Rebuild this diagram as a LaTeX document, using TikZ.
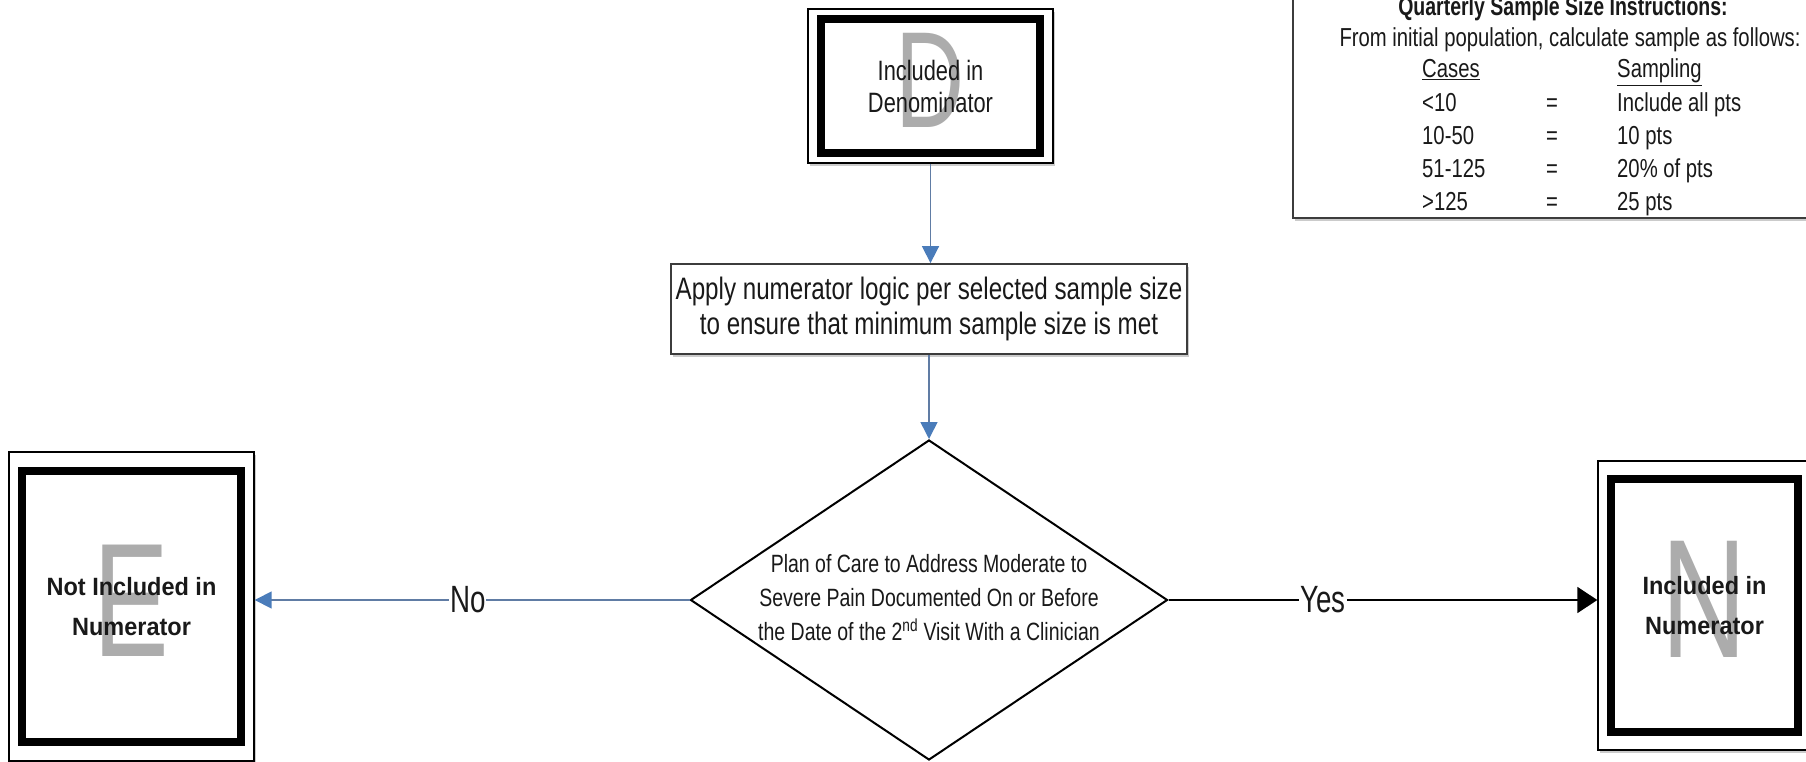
\documentclass[tikz,border=0pt]{standalone}
\usepackage{fontspec}
\usepackage{graphicx}
\setmainfont{Liberation Sans}
\newfontfamily\fnNar{Liberation Sans}[FakeStretch=0.78]
\newfontfamily\fnNarB{Liberation Sans}[FakeStretch=0.94]
\newfontfamily\fnNarL{Liberation Sans}[FakeStretch=0.73]
\newfontfamily\fnNarT{Liberation Sans}[FakeStretch=0.75]
\usetikzlibrary{shapes.geometric,arrows.meta,shadows}
\definecolor{ink}{RGB}{25,25,25}
\definecolor{ghostgray}{RGB}{172,172,172}
\definecolor{flowblue}{RGB}{74,124,186}
\definecolor{lineblue}{RGB}{96,124,164}
\definecolor{boxedge}{RGB}{60,60,60}
\newcommand\fBox{\fnNar\fontsize{28pt}{32pt}\selectfont}
\newcommand\fBoldBox{\fnNarB\bfseries\fontsize{25pt}{40pt}\selectfont}
\newcommand\fProc{\fnNar\fontsize{31pt}{35pt}\selectfont}
\newcommand\fDia{\fnNar\fontsize{25pt}{34pt}\selectfont}
\newcommand\fTab{\fnNar\fontsize{26pt}{32pt}\selectfont}
\newcommand\fTitle{\fnNarT\bfseries\fontsize{26pt}{32pt}\selectfont}
\newcommand\fLbl{\fnNarL\fontsize{38pt}{40pt}\selectfont}
\tikzset{
  shadowed/.style={drop shadow={shadow xshift=2pt,shadow yshift=-3pt,fill=black!45,opacity=0.45}},
  ghost/.style={shape=rectangle, draw=none, fill=none, inner sep=0pt, outer sep=0pt,
    minimum width=0pt, minimum height=0pt, text=ghostgray},
  termbox/.style n args={4}{shape=rectangle, draw=black, line width=1.4pt, fill=white, shadowed,
    inner sep=0pt, align=center, text=ink,
    path picture={
      \node[ghost, font=\normalfont\fontsize{#3}{#3}\selectfont] (#4)
        at ([yshift=6pt]path picture bounding box.center) {\scalebox{0.7}[1]{#2}};
      \draw[line width=8pt, black]
        ([shift={(13pt,-#1)}]path picture bounding box.north west) rectangle
        ([shift={(-13pt,#1)}]path picture bounding box.south east);
    }},
  procbox/.style={shape=rectangle, draw=boxedge, line width=1.8pt, fill=white, shadowed,
    inner sep=0pt, minimum width=516pt, minimum height=90pt, align=center, text=ink, font=\fProc},
  decision/.style={shape=diamond, draw=black, line width=2pt, fill=white, inner sep=0pt,
    minimum width=477pt, minimum height=320pt, text=ink, font=\fDia},
  tablebox/.style={shape=rectangle, draw=boxedge, line width=1.6pt, fill=white, shadowed,
    inner sep=0pt, minimum width=537pt, minimum height=238pt},
  tabtext/.style={inner sep=0pt, text=ink, font=\fTab},
  lbl/.style={fill=white, inner sep=1pt, text=ink, font=\fLbl},
  bluearrow/.style={draw=lineblue, line width=1.6pt, -{Triangle[length=17pt,width=17pt,color=flowblue]}},
  blackarrow/.style={draw=black, line width=2pt, -{Triangle[length=20pt,width=26pt]}},
}
\begin{document}
\begin{tikzpicture}[x=1pt,y=-1pt]
\useasboundingbox (0,0) rectangle (1806,762);
\clip (0,0) rectangle (1806,762);
\fill[white] (0,0) rectangle (1806,762);

% table of sample sizes
\node[tablebox] (T) at (1561.5,99) {};
\node[tabtext, font=\fTitle, anchor=base] (t0) at (1563,16) {Quarterly Sample Size Instructions:};
\node[tabtext, anchor=base] (t1) at (1570,47) {From initial population, calculate sample as follows:};
\node[tabtext, anchor=base west] (c0) at (1422,78) {\underline{Cases}};
\node[tabtext, anchor=base west] (s0) at (1617,78) {\underline{Sampling}};
\node[tabtext, anchor=base west] (c1) at (1422,112) {<10};
\node[tabtext, anchor=base] (e1) at (1552,112) {=};
\node[tabtext, anchor=base west] (s1) at (1617,112) {Include all pts};
\node[tabtext, anchor=base west] (c2) at (1422,145) {10-50};
\node[tabtext, anchor=base] (e2) at (1552,145) {=};
\node[tabtext, anchor=base west] (s2) at (1617,145) {10 pts};
\node[tabtext, anchor=base west] (c3) at (1422,178) {51-125};
\node[tabtext, anchor=base] (e3) at (1552,178) {=};
\node[tabtext, anchor=base west] (s3) at (1617,178) {20\% of pts};
\node[tabtext, anchor=base west] (c4) at (1422,211) {>125};
\node[tabtext, anchor=base] (e4) at (1552,211) {=};
\node[tabtext, anchor=base west] (s4) at (1617,211) {25 pts};

% flow
\node[termbox={10pt}{D}{137pt}{gD}, minimum width=245pt, minimum height=154pt, font=\fBox]
  (D) at (930.5,86) {Included in\\Denominator};
\node[procbox] (A) at (929,309)
  {Apply numerator logic per selected sample size\\to ensure that minimum sample size is met};
\node[decision] (Q) at (929,600)
  {\makebox[0pt]{\begin{tabular}{@{}c@{}}Plan of Care to Address Moderate to\\
   Severe Pain Documented On or Before\\
   the Date of the 2\textsuperscript{nd} Visit With a Clinician\end{tabular}}};
\node[termbox={19pt}{E}{162pt}{gE}, minimum width=245pt, minimum height=309pt, font=\fBoldBox]
  (E) at (131.5,606.5) {Not Included in\\Numerator};
\node[termbox={18pt}{N}{169pt}{gN}, minimum width=213pt, minimum height=289pt, font=\fBoldBox]
  (N) at (1704.5,605.5) {Included in\\Numerator};

\draw[bluearrow] (D.south) -- (D.south |- A.north);
\draw[bluearrow] (A.south) -- (Q.north);
\draw[bluearrow] (Q.west) -- node[lbl, pos=0.51] (lno) {No} (Q.west -| E.east);
\draw[blackarrow] (Q.east) -- node[lbl, pos=0.36] (lyes) {Yes} (Q.east -| N.west);
\end{tikzpicture}
\end{document}
